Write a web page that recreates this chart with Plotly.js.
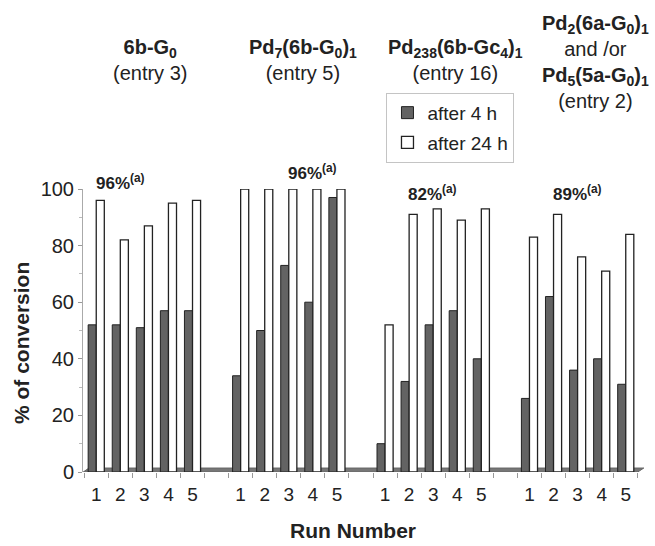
<!DOCTYPE html>
<html>
<head>
<meta charset="utf-8">
<script src="https://cdn.plot.ly/plotly-3.0.1.min.js"></script>
<style>html,body{margin:0;padding:0;background:#fff}#chart{width:655px;height:546px}</style>
</head>
<body>
<div id="chart"></div>
<script>
// Data
const runLabels = ["1","2","3","4","5"];
const groupNames = ["<b>6b-G<sub>0</sub></b><br>(entry 3)",
                    "<b>Pd<sub>7</sub>(6b-G<sub>0</sub>)<sub>1</sub></b><br>(entry 5)",
                    "<b>Pd<sub>238</sub>(6b-Gc<sub>4</sub>)<sub>1</sub></b><br>(entry 16)",
                    "<b>Pd<sub>2</sub>(6a-G<sub>0</sub>)<sub>1</sub></b><br>and /or<br><b>Pd<sub>5</sub>(5a-G<sub>0</sub>)<sub>1</sub></b><br>(entry 2)"];
const yieldLabels = ["96%", "96%", "82%", "89%"];
const after4h  = [[52,52,51,57,57],[34,50,73,60,97],[10,32,52,57,40],[26,62,36,40,31]];
const after24h = [[96,82,87,95,96],[100,100,100,100,100],[52,91,93,89,93],[83,91,76,71,84]];

// positions: 5 runs per group plus one empty slot between groups
const xs = [], y4 = [], y24 = [], tickText = [];
for (let g = 0; g < after4h.length; g++) {
  for (let r = 0; r < runLabels.length; r++) {
    xs.push(g * 6 + r);
    y4.push(after4h[g][r]);
    y24.push(after24h[g][r]);
    tickText.push(runLabels[r]);
  }
}

const FONT = 'Liberation Sans, Arial, sans-serif';
const traces = [
  {type:'bar', x: xs, y: y4, name:'after 4 h', legendgroup:'a',
   marker:{color:'#636363', line:{color:'#222', width:1}}},
  {type:'bar', x: xs, y: y24, name:'after 24 h', legendgroup:'b',
   marker:{color:'#ffffff', line:{color:'#222', width:1.3}}}
];

const annotations = [];
const titlePos = [[2.25, 1.548], [8.57, 1.548], [14.93, 1.548], [20.75, 1.633]];
groupNames.forEach((t, g) => {
  annotations.push({xref:'x', yref:'paper', x: titlePos[g][0], y: titlePos[g][1],
    xanchor:'center', yanchor:'top', text: t, showarrow:false,
    font:{family:FONT, size:20, color:'#222'}});
});
const yieldPos = [[1.0, 1.025], [9.0, 1.06], [13.97, 0.986], [20.0, 0.986]];
yieldLabels.forEach((t, g) => {
  annotations.push({xref:'x', yref:'paper', x: yieldPos[g][0], y: yieldPos[g][1],
    xanchor:'center', yanchor:'middle', text: '<b>' + t + '<sup>(a)</sup></b>', showarrow:false,
    font:{family:FONT, size:17, color:'#222'}});
});
annotations.push({xref:'paper', yref:'paper', x: 0.48, y: -0.205, xanchor:'center', yanchor:'middle',
  text:'<b>Run Number</b>', showarrow:false,
  font:{family:FONT, size:21, color:'#222'}});
annotations.push({xref:'paper', yref:'paper', x: -0.1085, y: 0.456, xanchor:'center', yanchor:'middle',
  text:'<b>% of conversion</b>', textangle:-90, showarrow:false,
  font:{family:FONT, size:21, color:'#222'}});

const layout = {
  width:655, height:546,
  margin:{l:83, r:10, t:189, b:74},
  paper_bgcolor:'#fff', plot_bgcolor:'#fff',
  barmode:'group', bargap:0.33, bargroupgap:0,
  font:{family:FONT, size:18, color:'#222'},
  xaxis:{range:[-0.55, 22.8], tickmode:'array', tickvals: xs, ticktext: tickText,
    ticks:'outside', ticklen:5, tickcolor:'rgba(0,0,0,0)', showgrid:false, zeroline:false,
    showline:false, tickfont:{size:19},
    minor:{tick0:0.5, dtick:1, ticks:'outside', ticklen:5, tickcolor:'#999', tickwidth:1, showgrid:false}},
  yaxis:{range:[0,100], tickvals:[0,20,40,60,80,100], ticks:'outside', ticklen:4, tickcolor:'#999',
    showline:true, linecolor:'#aaa', linewidth:1, showgrid:false, zeroline:false,
    tickfont:{size:20},
    minor:{dtick:10, ticks:'outside', ticklen:3, tickcolor:'#bbb', showgrid:false}},
  showlegend:true,
  legend:{x:0.54, y:1.34, xanchor:'left', yanchor:'top', bgcolor:'#fff', bordercolor:'#c4c4c4', borderwidth:1,
    font:{size:19, color:'#222'}, tracegroupgap:2, traceorder:'grouped', itemwidth:30},
  shapes:[{type:'path', xref:'x', yref:'y', layer:'below',
    path:'M -0.54,0 L 22.5,0 L 22.75,1.4 L -0.3,1.4 Z',
    fillcolor:'#777777', line:{color:'#666', width:1}}],
  annotations: annotations
};

Plotly.newPlot('chart', traces, layout, {staticPlot:true, displayModeBar:false});
</script>
</body>
</html>
